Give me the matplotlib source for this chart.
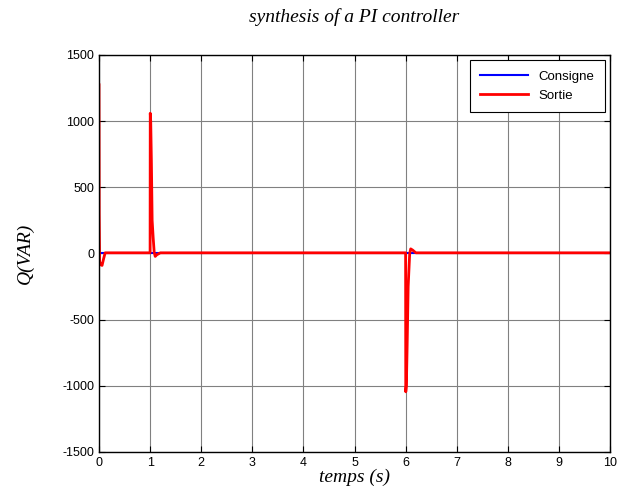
import numpy as np
import matplotlib
matplotlib.use("Agg")
import matplotlib.pyplot as plt

# Consigne (setpoint) and Sortie (output) reactive power
t_consigne = [0.0, 10.0]
q_consigne = [0.0, 0.0]

t_sortie = [0.0, 0.004, 0.012, 0.03, 0.06, 0.09, 0.12, 0.2, 1.0, 1.003, 1.012, 1.025,
            1.04, 1.06, 1.08, 1.1, 1.13, 1.2, 6.0, 6.003, 6.015, 6.03, 6.05, 6.08,
            6.1, 6.14, 6.2, 10.0]
q_sortie = [1275, 300, -60, -85, -90, -40, 5, 5, 5, 1060, 1000, 700,
            250, 120, 10, -22, -10, 5, 5, -1045, -1000, -700, -250, 0,
            35, 25, 5, 5]

title = "synthesis of a PI controller"
xticks = list(range(0, 11))
yticks = [-1500, -1000, -500, 0, 500, 1000, 1500]


def main():
    plt.rcParams["font.family"] = ["Liberation Sans", "DejaVu Sans"]
    plt.rcParams["axes.unicode_minus"] = False
    fig = plt.figure(figsize=(6.19, 4.9), dpi=100)
    ax = fig.add_axes([99 / 619, 1 - 452 / 490, 511 / 619, 397 / 490])

    ax.plot(t_consigne, q_consigne, color="blue", lw=1.5, label="Consigne")
    ax.plot(t_sortie, q_sortie, color="red", lw=2.0, label="Sortie")

    ax.set_xlim(0, 10)
    ax.set_ylim(-1500, 1500)
    ax.set_xticks(xticks)
    ax.set_yticks(yticks)
    ax.tick_params(direction="in", top=True, right=True, labelsize=9, length=4)
    ax.grid(True, color="#808080", lw=0.8)
    for s in ax.spines.values():
        s.set_linewidth(1.0)

    serif = ["Liberation Serif", "DejaVu Serif"]
    ax.set_title(title, family=serif, style="italic", fontsize=14, pad=24)
    ax.set_xlabel("temps (s)", family=serif, style="italic", fontsize=14, labelpad=0)
    ax.set_ylabel("Q(VAR)", family=serif, style="italic", fontsize=14, labelpad=20)

    leg = ax.legend(loc="upper right", fontsize=9.5, fancybox=False, framealpha=1,
                    edgecolor="black", handlelength=3.6, borderpad=0.8,
                    borderaxespad=0.4)
    leg.get_frame().set_linewidth(0.8)

    fig.savefig("out.png", dpi=100)


if __name__ == "__main__":
    main()
